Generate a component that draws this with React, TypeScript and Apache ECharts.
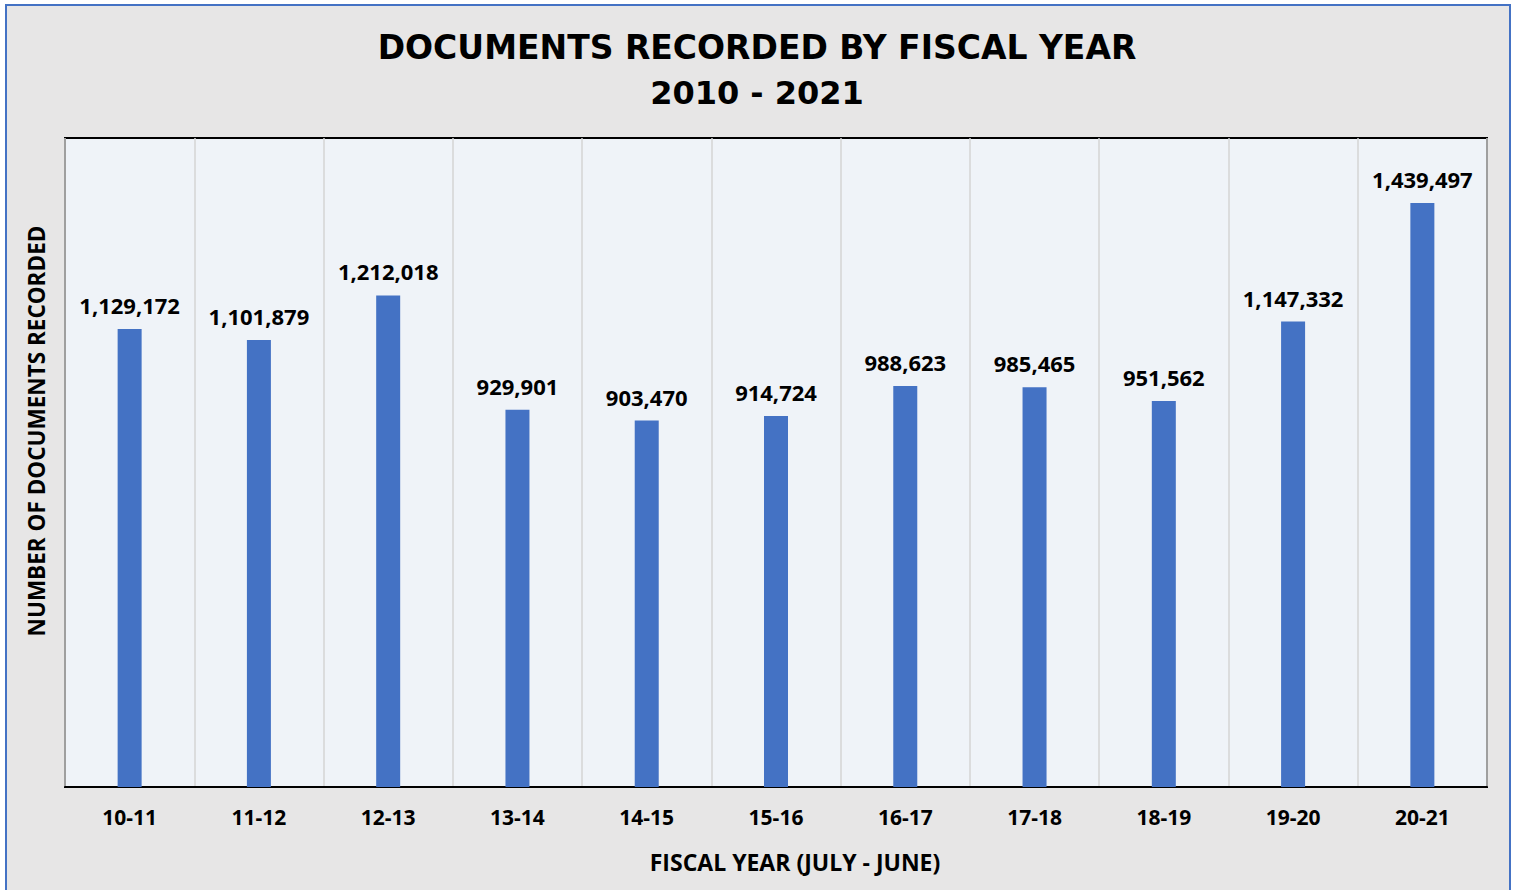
import React, { useEffect, useRef } from "react";
import * as echarts from "echarts";

const categories = ["10-11", "11-12", "12-13", "13-14", "14-15", "15-16", "16-17", "17-18", "18-19", "19-20", "20-21"];
const documents = [1129172, 1101879, 1212018, 929901, 903470, 914724, 988623, 985465, 951562, 1147332, 1439497];
const titleLines = ["DOCUMENTS RECORDED BY FISCAL YEAR", "2010 - 2021"];
const yTitle = "NUMBER OF DOCUMENTS RECORDED";
const xTitle = "FISCAL YEAR (JULY - JUNE)";

export default function App() {
  const ref = useRef<HTMLDivElement>(null);
  useEffect(() => {
    if (!ref.current) return;
    const chart = echarts.init(ref.current, null, { renderer: "svg" });
    chart.setOption({
      animation: false,
      backgroundColor: "#ffffff",
      graphic: [
        {
          type: "rect",
          z: -10,
          shape: { x: 6, y: 5, width: 1504, height: 900 },
          style: { fill: "#e7e6e6", stroke: "#4472c4", lineWidth: 2 },
        },
        {
          type: "text",
          x: 757,
          y: 47,
          style: {
            text: titleLines[0],
            font: "bold 33px 'DejaVu Sans'",
            fill: "#000",
            align: "center",
            verticalAlign: "middle",
          },
        },
        {
          type: "text",
          x: 757,
          y: 93,
          style: {
            text: titleLines[1],
            font: "bold 32px 'DejaVu Sans'",
            fill: "#000",
            align: "center",
            verticalAlign: "middle",
          },
        },
        {
          type: "text",
          x: 36,
          y: 431,
          rotation: Math.PI / 2,
          style: {
            text: yTitle,
            font: "bold 22.5px 'Open Sans'",
            fill: "#000",
            align: "center",
            verticalAlign: "middle",
          },
        },
        {
          type: "text",
          x: 795,
          y: 862,
          style: {
            text: xTitle,
            font: "bold 23px 'Open Sans'",
            fill: "#000",
            align: "center",
            verticalAlign: "middle",
          },
        },
      ],
      grid: {
        left: 65,
        top: 138,
        width: 1422,
        height: 649,
        show: true,
        backgroundColor: "#eff3f8",
        borderColor: "#000",
        borderWidth: 2,
        containLabel: false,
      },
      xAxis: {
        type: "category",
        data: categories,
        axisLine: { show: true, lineStyle: { color: "#000", width: 2 } },
        axisTick: { show: false },
        splitLine: { show: true, lineStyle: { color: "#d4d4d4", width: 1.5 } },
        axisLabel: {
          margin: 19,
          fontFamily: "'Open Sans'",
          fontWeight: "bold",
          fontSize: 21,
          color: "#000",
        },
      },
      yAxis: {
        type: "value",
        min: 0,
        max: 1600000,
        axisLabel: { show: false },
        axisLine: { show: false },
        axisTick: { show: false },
        splitLine: { show: false },
      },
      series: [
        {
          type: "bar",
          data: documents,
          barWidth: 24,
          itemStyle: { color: "#4472c4" },
          label: {
            show: true,
            position: "top",
            distance: 13,
            fontFamily: "'Open Sans'",
            fontWeight: "bold",
            fontSize: 22,
            color: "#000",
            formatter: (p: any) => Number(p.value).toLocaleString("en-US"),
          },
        },
      ],
    });
    return () => chart.dispose();
  }, []);
  return (
    <div
      ref={ref}
      style={{ position: "fixed", left: 0, top: 0, width: 1517, height: 890 }}
    />
  );
}
